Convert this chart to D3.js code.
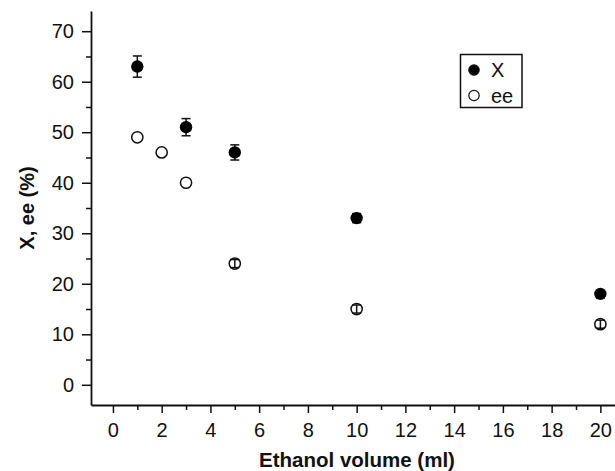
<!DOCTYPE html>
<html>
<head>
<meta charset="utf-8">
<script src="https://cdn.jsdelivr.net/npm/d3@7"></script>
<style>
  body { margin: 0; background: #fff; }
  svg { display: block; font-family: "Liberation Sans", Arial, Helvetica, sans-serif; }
</style>
</head>
<body>
<div id="plot"></div>
<script>
const width = 615
const height = 471

// data
const volume = [1, 3, 5, 10, 20]
const conversion = [63, 51, 46, 33, 18]
const conversionErr = [2.1, 1.7, 1.5, 0.9, 0]
const volumeEe = [1, 2, 3, 5, 10, 20]
const ee = [49, 46, 40, 24, 15, 12]
const eeErr = [0, 0, 0, 0.8, 0.8, 0.8]

const xMajor = [0, 2, 4, 6, 8, 10, 12, 14, 16, 18, 20]
const xMinor = [1, 3, 5, 7, 9, 11, 13, 15, 17, 19]
const yMajor = [0, 10, 20, 30, 40, 50, 60, 70]
const yMinor = [5, 15, 25, 35, 45, 55, 65]

const x = d3.scaleLinear()
  .domain([-0.9, 20.6])
  .range([91, 615])

const y = d3.scaleLinear()
  .domain([-4, 74])
  .range([405, 11])

const svg = d3.select("#plot")
  .append("svg")
  .attr("width", width)
  .attr("height", height)

const ink = "#111"

// minor ticks first, then major axis
svg.append("g")
  .attr("transform", `translate(0,${y(-4)})`)
  .call(d3.axisBottom(x).tickValues(xMinor).tickSize(5).tickSizeOuter(0).tickFormat(""))
  .call(g => g.select(".domain").remove())
  .call(g => g.selectAll("line").attr("stroke", ink).attr("stroke-width", 1.5))

svg.append("g")
  .attr("transform", `translate(${x(-0.9)},0)`)
  .call(d3.axisLeft(y).tickValues(yMinor).tickSize(5).tickSizeOuter(0).tickFormat(""))
  .call(g => g.select(".domain").remove())
  .call(g => g.selectAll("line").attr("stroke", ink).attr("stroke-width", 1.5))

svg.append("g")
  .attr("transform", `translate(0,${y(-4)})`)
  .call(d3.axisBottom(x).tickValues(xMajor).tickSize(8).tickSizeOuter(0).tickPadding(10))
  .call(g => g.select(".domain").attr("stroke", ink).attr("stroke-width", 1.8))
  .call(g => g.selectAll("line").attr("stroke", ink).attr("stroke-width", 1.5))
  .call(g => g.selectAll("text").attr("font-size", 20).attr("fill", ink).attr("font-family", null))

svg.append("g")
  .attr("transform", `translate(${x(-0.9)},0)`)
  .call(d3.axisLeft(y).tickValues(yMajor).tickSize(9).tickSizeOuter(0).tickPadding(8))
  .call(g => g.select(".domain").attr("stroke", ink).attr("stroke-width", 1.8))
  .call(g => g.selectAll("line").attr("stroke", ink).attr("stroke-width", 1.5))
  .call(g => g.selectAll("text").attr("font-size", 20).attr("fill", ink).attr("font-family", null))

// axis titles
svg.append("text")
  .attr("x", 357)
  .attr("y", 467)
  .attr("text-anchor", "middle")
  .attr("font-weight", "bold")
  .attr("font-size", 20.5)
  .attr("fill", ink)
  .text("Ethanol volume (ml)")

svg.append("text")
  .attr("transform", "translate(34,208) rotate(-90)")
  .attr("text-anchor", "middle")
  .attr("font-weight", "bold")
  .attr("font-size", 20)
  .attr("fill", ink)
  .text("X, ee (%)")

const capW = 4.5

function errorBars(xs, ys, errs) {
  const g = svg.append("g").attr("stroke", ink).attr("stroke-width", 1.5)
  xs.forEach((v, i) => {
    if (!errs[i]) return
    const cx = x(v), y0 = y(ys[i] - errs[i]), y1 = y(ys[i] + errs[i])
    g.append("line").attr("x1", cx).attr("x2", cx).attr("y1", y0).attr("y2", y1)
    g.append("line").attr("x1", cx - capW).attr("x2", cx + capW).attr("y1", y0).attr("y2", y0)
    g.append("line").attr("x1", cx - capW).attr("x2", cx + capW).attr("y1", y1).attr("y2", y1)
  })
}

// X: filled circles with bars behind
errorBars(volume, conversion, conversionErr)
svg.append("g")
  .selectAll("circle")
  .data(volume)
  .join("circle")
  .attr("cx", d => x(d))
  .attr("cy", (d, i) => y(conversion[i]))
  .attr("r", 6.2)
  .attr("fill", "#000")

// ee: open circles, bars visible inside
svg.append("g")
  .selectAll("circle")
  .data(volumeEe)
  .join("circle")
  .attr("cx", d => x(d))
  .attr("cy", (d, i) => y(ee[i]))
  .attr("r", 5.6)
  .attr("fill", "#fff")
  .attr("stroke", ink)
  .attr("stroke-width", 1.5)
errorBars(volumeEe, ee, eeErr)

// legend
const legend = svg.append("g")
legend.append("rect")
  .attr("x", 460.5)
  .attr("y", 54.5)
  .attr("width", 61.5)
  .attr("height", 53)
  .attr("fill", "#fff")
  .attr("stroke", ink)
  .attr("stroke-width", 1.5)

const legendItems = [
  {label: "X", fill: "#000"},
  {label: "ee", fill: "#fff"}
]
legendItems.forEach((d, i) => {
  legend.append("circle")
    .attr("cx", 474)
    .attr("cy", 70 + i * 25.5)
    .attr("r", 5.2)
    .attr("fill", d.fill)
    .attr("stroke", ink)
    .attr("stroke-width", 1.2)
  legend.append("text")
    .attr("x", 491)
    .attr("y", 70 + i * 25.5)
    .attr("dy", "0.36em")
    .attr("font-size", 20)
    .attr("fill", ink)
    .text(d.label)
})
</script>
</body>
</html>
